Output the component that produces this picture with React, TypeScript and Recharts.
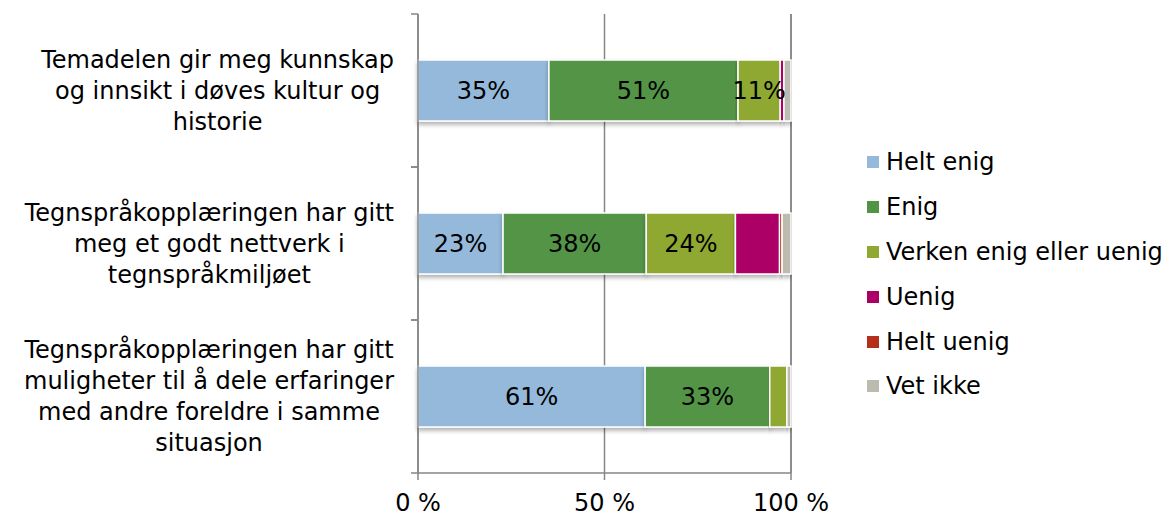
import React from 'react';
import { BarChart, Bar, XAxis, YAxis, CartesianGrid, LabelList, Rectangle } from 'recharts';

// Survey statements (already wrapped like the original)
const statements = [
  ['Temadelen gir meg kunnskap', 'og innsikt i døves kultur og', 'historie'],
  ['Tegnspråkopplæringen har gitt', 'meg et godt nettverk i', 'tegnspråkmiljøet'],
  ['Tegnspråkopplæringen har gitt', 'muligheter til å dele erfaringer', 'med andre foreldre i samme', 'situasjon'],
];

const seriesNames = ['Helt enig', 'Enig', 'Verken enig eller uenig', 'Uenig', 'Helt uenig', 'Vet ikke'];
const seriesColors = ['#95B9DA', '#529446', '#8FA832', '#AD0066', '#B5301A', '#BCBBB0'];

// percent per statement
const heltEnig = [35.1, 22.8, 60.9];
const enig = [50.7, 38.4, 33.4];
const verken = [11.3, 23.9, 4.6];
const uenig = [1.0, 11.8, 0];
const heltUenig = [0, 0.7, 0];
const vetIkke = [1.9, 2.4, 1.1];

const xTicks = [0, 50, 100];

const seriesValues = [heltEnig, enig, verken, uenig, heltUenig, vetIkke];
const keys = ['s0', 's1', 's2', 's3', 's4', 's5'];

const chartData = statements.map((lines, i) => {
  const row: any = { label: lines.join(' ') };
  seriesValues.forEach((vals, s) => {
    row[keys[s]] = vals[i];
  });
  return row;
});

const FONT = '"DejaVu Sans", Verdana, sans-serif';
const FS = 24;
const AXIS_COLOR = '#868686';

let ctx: CanvasRenderingContext2D | null = null;
const textWidth = (s: string) => {
  if (!ctx && typeof document !== 'undefined') {
    ctx = document.createElement('canvas').getContext('2d');
  }
  if (!ctx) return s.length * 13.5;
  ctx.font = `${FS}px ${FONT}`;
  return ctx.measureText(s).width;
};

const CategoryTick = (props: any) => {
  const { x, y, payload } = props;
  const lines = statements[payload.index] || [];
  const half = payload.offset || 76.5;
  const maxW = Math.max(...lines.map(textWidth));
  const cx = x - 24 - maxW / 2;
  const lh = 31;
  const top = y - ((lines.length - 1) * lh) / 2;
  return (
    <g>
      <line x1={x - 7} x2={x} y1={y - half} y2={y - half} stroke={AXIS_COLOR} strokeWidth={1.5} />
      <line x1={x - 7} x2={x} y1={y + half} y2={y + half} stroke={AXIS_COLOR} strokeWidth={1.5} />
      <text textAnchor="middle" fontFamily={FONT} fontSize={FS} fill="#000">
        {lines.map((l, i) => (
          <tspan key={i} x={cx} y={top + i * lh} dy="0.35em">
            {l}
          </tspan>
        ))}
      </text>
    </g>
  );
};

// only the first three answers get a label, and only if wide enough
const makeLabel = (seriesIdx: number) => (props: any) => {
  const { x, y, width, height, value } = props;
  if (seriesIdx > 2 || value < 10) return null;
  return (
    <text
      x={x + width / 2}
      y={y + height / 2}
      dy="0.35em"
      textAnchor="middle"
      fontFamily={FONT}
      fontSize={FS}
      fill="#000"
    >
      {`${Math.round(value)}%`}
    </text>
  );
};

const ShadowBar = (props: any) => <Rectangle {...props} filter="url(#barShadow)" />;

export default function App() {
  return (
    <div style={{ position: 'absolute', left: 0, top: 0, width: 1172, height: 515, background: '#fff' }}>
      <BarChart
        width={1172}
        height={515}
        data={chartData}
        layout="vertical"
        margin={{ top: 14, right: 381, bottom: 0, left: 0 }}
        barCategoryGap="30%"
      >
        <defs>
          <filter id="barShadow" x="-5%" y="-10%" width="110%" height="140%">
            <feDropShadow dx="0" dy="3" stdDeviation="2" floodColor="#000" floodOpacity="0.3" />
          </filter>
        </defs>
        <CartesianGrid horizontal={false} stroke={AXIS_COLOR} strokeWidth={1.5} />
        <XAxis
          type="number"
          domain={[0, 100]}
          ticks={xTicks}
          tickFormatter={(v: number) => `${v} %`}
          height={42}
          stroke={AXIS_COLOR}
          strokeWidth={1.5}
          tickSize={7}
          tickMargin={14}
          tick={{ fontFamily: FONT, fontSize: FS, fill: '#000' }}
        />
        <YAxis
          type="category"
          dataKey="label"
          width={418}
          stroke={AXIS_COLOR}
          strokeWidth={1.5}
          tickLine={false}
          tickSize={0}
          tickMargin={0}
          tick={<CategoryTick />}
        />
        {keys.map((k, s) => (
          <Bar
            key={k}
            dataKey={k}
            name={seriesNames[s]}
            stackId="a"
            fill={seriesColors[s]}
            stroke="#fff"
            strokeWidth={1.5}
            shape={ShadowBar}
            isAnimationActive={false}
          >
            <LabelList dataKey={k} content={makeLabel(s)} />
          </Bar>
        ))}
      </BarChart>
      <div
        style={{
          position: 'absolute',
          left: 867,
          top: 140,
          fontFamily: FONT,
          fontSize: FS,
          color: '#000',
        }}
      >
        {seriesNames.map((n, i) => (
          <div key={n} style={{ display: 'flex', alignItems: 'center', height: 44.8, whiteSpace: 'nowrap' }}>
            <span style={{ width: 12, height: 12, background: seriesColors[i], marginRight: 7, display: 'inline-block', flexShrink: 0 }} />
            <span>{n}</span>
          </div>
        ))}
      </div>
    </div>
  );
}
